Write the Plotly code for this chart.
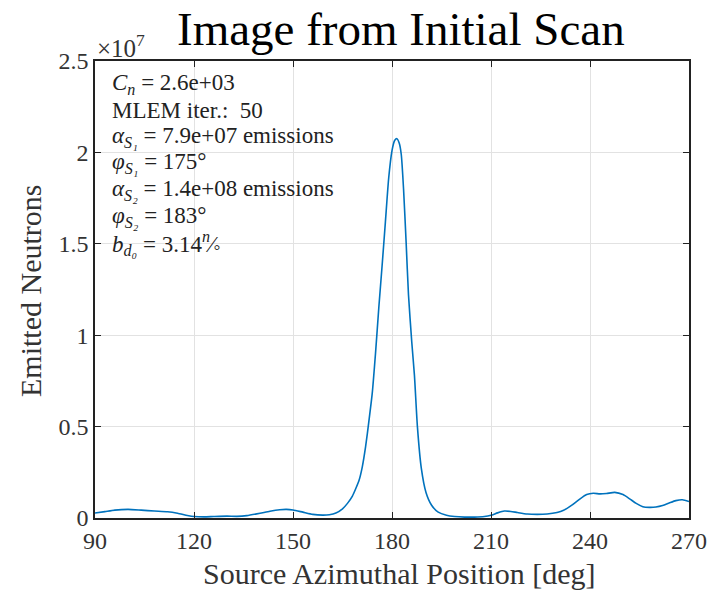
import plotly.graph_objects as go

# Data (angle in deg, emitted neutrons in units of 1e7)
angle_deg = [90, 93, 96, 100, 104, 108, 112, 115, 118, 120, 123, 126, 130, 133, 136, 140, 143,
             146, 148, 150, 153, 156, 159, 161, 163, 165, 166.5, 168, 169, 170, 171, 172, 173,
             174, 175, 176, 177, 178, 179, 180, 180.8, 181.5, 182.2, 182.8, 183.5, 184.3, 185,
             186, 186.8, 187.7, 188.9, 190.3, 192, 194, 196.5, 199, 202, 205, 208, 210, 212,
             214, 216, 218, 221, 224, 227, 230, 232, 234.5, 237, 239, 241, 243, 245, 247.5,
             250, 252, 254, 256, 258, 260, 262, 264, 266, 268, 270]
neutrons_e7 = [0.027, 0.035, 0.043, 0.047, 0.043, 0.038, 0.034, 0.026, 0.014, 0.008, 0.006, 0.008,
               0.010, 0.009, 0.013, 0.026, 0.037, 0.045, 0.047, 0.044, 0.032, 0.020, 0.016, 0.018,
               0.027, 0.050, 0.080, 0.120, 0.160, 0.205, 0.280, 0.390, 0.530, 0.680, 0.900,
               1.150, 1.380, 1.620, 1.860, 2.010, 2.065, 2.075, 2.050, 1.990, 1.800, 1.500,
               1.220, 0.960, 0.780, 0.500, 0.270, 0.140, 0.070, 0.032, 0.015, 0.008, 0.005,
               0.005, 0.008, 0.015, 0.028, 0.038, 0.036, 0.030, 0.022, 0.020, 0.022, 0.030,
               0.042, 0.070, 0.105, 0.128, 0.135, 0.132, 0.134, 0.140, 0.128, 0.105, 0.080,
               0.062, 0.058, 0.060, 0.068, 0.082, 0.095, 0.100, 0.090]

x_ticks = [90, 120, 150, 180, 210, 240, 270]
y_ticks = [0, 0.5, 1, 1.5, 2, 2.5]
y_tick_text = ["0", "0.5", "1", "1.5", "2", "2.5"]

info_lines = [
    "<i>C<sub>n</sub></i> = 2.6e+03",
    "MLEM iter.:  50",
    "<i>α<sub>S₁</sub></i> = 7.9e+07 emissions",
    "<i>φ<sub>S₁</sub></i> = 175°",
    "<i>α<sub>S₂</sub></i> = 1.4e+08 emissions",
    "<i>φ<sub>S₂</sub></i> = 183°",
    "<i>b<sub>d₀</sub></i> = 3.14<sup><i>n</i></sup>⁄<sub>°</sub>",
]

serif = "Liberation Serif, Times New Roman, serif"

fig = go.Figure()
fig.add_trace(go.Scatter(x=angle_deg, y=neutrons_e7, mode="lines",
                         line=dict(color="#0072BD", width=1.6, shape="spline", smoothing=0.6),
                         hoverinfo="skip"))

L, R, T, B = 95, 21, 61, 72
W, H = 710, 590
pw, ph = W - L - R, H - T - B

annotations = []
line_y = [84, 110, 137, 163, 190, 217, 243]
for txt, py in zip(info_lines, line_y):
    annotations.append(dict(text=txt, xref="paper", yref="paper",
                            x=(110 - L) / pw, y=1 - (py - T) / ph,
                            xanchor="left", yanchor="middle", showarrow=False,
                            font=dict(family=serif, size=23, color="#222")))
annotations.append(dict(text="×10<sup>7</sup>", xref="paper", yref="paper",
                        x=(95 - L) / pw, y=1 - (46 - T) / ph, xanchor="left", yanchor="middle",
                        showarrow=False, font=dict(family=serif, size=25, color="#333")))
annotations.append(dict(text="Emitted Neutrons", xref="paper", yref="paper",
                        x=(30 - L) / pw, y=1 - (291 - T) / ph, xanchor="center", yanchor="middle",
                        textangle=-90, showarrow=False, font=dict(family=serif, size=30, color="#333")))
annotations.append(dict(text="Source Azimuthal Position [deg]", xref="paper", yref="paper",
                        x=(399 - L) / pw, y=1 - (573 - T) / ph, xanchor="center", yanchor="middle",
                        showarrow=False, font=dict(family=serif, size=30, color="#333")))
annotations.append(dict(text="Image from Initial Scan", xref="paper", yref="paper",
                        x=(401 - L) / pw, y=1 - (29 - T) / ph, xanchor="center", yanchor="middle",
                        showarrow=False, font=dict(family=serif, size=47, color="#000")))

fig.update_layout(
    width=W, height=H, autosize=False, margin=dict(l=L, r=R, t=T, b=B, pad=0),
    paper_bgcolor="white", plot_bgcolor="white", showlegend=False,
    annotations=annotations,
    xaxis=dict(range=[90, 270], tickvals=x_ticks, ticktext=[str(v) for v in x_ticks],
               showgrid=True, gridcolor="#e2e2e2", gridwidth=1, zeroline=False,
               showline=True, linecolor="#222", linewidth=1.5, mirror="ticks",
               ticks="inside", ticklen=6, tickcolor="#222", automargin=False,
               tickfont=dict(family=serif, size=24, color="#333")),
    yaxis=dict(range=[0, 2.5], tickvals=y_ticks, ticktext=y_tick_text,
               showgrid=True, gridcolor="#e2e2e2", gridwidth=1, zeroline=False,
               showline=True, linecolor="#222", linewidth=1.5, mirror="ticks",
               ticks="inside", ticklen=6, tickcolor="#222", automargin=False,
               tickfont=dict(family=serif, size=24, color="#333")),
)

fig.write_html(
    "out.html",
    config={"displayModeBar": False, "responsive": False},
    post_script="document.body.style.margin='0';document.body.style.overflow='hidden';",
)
